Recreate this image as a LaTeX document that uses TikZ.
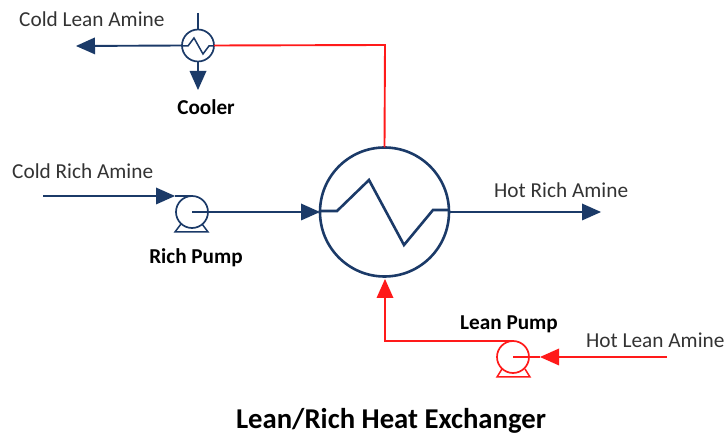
\documentclass[tikz,border=0pt]{standalone}
\usepackage{fontspec}
\setmainfont{Carlito}
\usetikzlibrary{arrows.meta}
\definecolor{navy}{HTML}{1B3A68}
\definecolor{hot}{HTML}{FF1A1A}
\tikzset{
  x=1pt,y=-1pt,
  pipe/.style={line width=1.9pt,line join=miter},
  flow/.style={pipe,-{Triangle[length=19pt,width=17pt,line width=0pt]}},
  vessel/.style={circle,draw,fill=white,inner sep=0pt,outer sep=0pt},
  lab/.style={text=black!80,font=\fontsize{21.3}{24}\selectfont,inner sep=0pt},
  blab/.style={text=black,font=\fontsize{21.2}{24}\selectfont\bfseries,inner sep=0pt},
}
\begin{document}
\begin{tikzpicture}
\useasboundingbox (0,0) rectangle (726,435);
% coordinates
\coordinate (crin) at (43,196);
\coordinate (crtop) at (192,196);
\coordinate (hrout) at (601,212);
\coordinate (clout) at (76,46);
\coordinate (cwin) at (198,13);
\coordinate (cwout) at (198,90);
\coordinate (redcorner1) at (385,45);
\coordinate (redcorner2) at (385,341);
\coordinate (hlin) at (667,357);
\coordinate (lptop) at (513,341);

% heat exchanger
\node[vessel,draw=navy,line width=2.6pt,minimum size=129pt] (hx) at (384.5,212) {};
\draw[navy,line width=2.6pt] (320,211) -- (337,211) -- (369,180) -- (404,245) -- (433,210) -- (449,210);

% rich pump
\node[vessel,draw=navy,line width=1.7pt,minimum size=32pt,fill=none] (rp) at (192,212) {};
\draw[navy,line width=1.5pt] (181,224) -- (175,232) -- (208,232) -- (202,224);
\draw[flow,navy] (crin) -- (175,196);
\draw[pipe,navy] (175,196) -- (crtop);
\draw[flow,navy] (rp.center) -- (hx.west);
\draw[flow,navy] (hx.east) -- (hrout);

% cooler
\node[vessel,draw=navy,line width=1.7pt,minimum size=32pt] (cool) at (198,45.5) {};
\draw[navy,line width=1.5pt] (182,46) -- (188,46) -- (194,38) -- (203,54) -- (209,46) -- (214,46);
\draw[pipe,navy] (cwin) -- (cool.north);
\draw[flow,navy] (cool.south) -- (cwout);
\draw[flow,navy] (cool.west) -- (clout);
\draw[pipe,hot] (cool.east) -- (redcorner1) -- (hx.north);

% lean pump
\node[vessel,draw=hot,line width=1.7pt,minimum size=32pt,fill=none] (lp) at (513,357) {};
\draw[hot,line width=1.5pt] (502,369) -- (497,377) -- (530,377) -- (525,369);
\draw[flow,hot] (hlin) -- (540,357);
\draw[pipe,hot] (540,357) -- (lp.center);
\draw[flow,hot] (lptop) -- (redcorner2) -- (385,279);

% labels
\node[lab,anchor=base west] (t1) at (19,27) {Cold Lean Amine};
\node[blab,anchor=base] (t2) at (206,115) {Cooler};
\node[lab,anchor=base west] (t3) at (12,179) {Cold Rich Amine};
\node[blab,anchor=base] (t4) at (196,264) {Rich Pump};
\node[lab,anchor=base west] (t5) at (494,198) {Hot Rich Amine};
\node[blab,anchor=base] (t6) at (509,330) {Lean Pump};
\node[lab,anchor=base west] (t7) at (586,348) {Hot Lean Amine};
\node[text=black,font=\fontsize{28.7}{30}\selectfont\bfseries,inner sep=0pt,anchor=base] (t8) at (391,428.8) {Lean/Rich Heat Exchanger};
\end{tikzpicture}
\end{document}
